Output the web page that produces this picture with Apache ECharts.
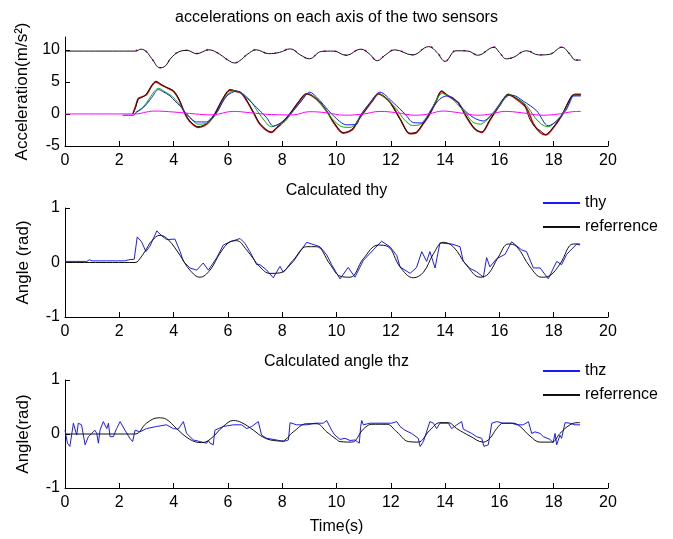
<!DOCTYPE html>
<html>
<head>
<meta charset="utf-8">
<script src="https://cdn.jsdelivr.net/npm/echarts@6/dist/echarts.min.js"></script>
<style>
  html, body { margin: 0; padding: 0; background: #fff; }
  #main { width: 673px; height: 539px; }
</style>
</head>
<body>
<div id="main"></div>
<script>
// time axis ticks (s)
const timeTicks = [0, 2, 4, 6, 8, 10, 12, 14, 16, 18, 20]
const accTicks = [-5, 0, 5, 10]
const angleTicks = [-1, 0, 1]

// top plot: accelerations [t, m/s^2]
const accZ1 = [[0,9.8],[2.6,9.8],[2.8,10.1],[3.0,9.7],[3.2,8.6],[3.5,7.2],[3.7,7.5],[3.9,8.7],[4.2,9.7],[4.5,9.9],[4.85,9.4],[5.3,10.0],[5.7,9.3],[6.0,8.4],[6.25,7.95],[6.5,8.5],[6.7,9.25],[7.05,10.0],[7.5,9.4],[7.9,9.6],[8.3,10.15],[8.65,9.25],[9.0,8.6],[9.45,9.75],[9.9,9.8],[10.35,9.15],[10.9,10.1],[11.2,9.4],[11.5,8.3],[11.8,9.2],[12.15,10.0],[12.8,9.2],[13.4,10.5],[13.7,9.6],[14.0,8.2],[14.4,9.85],[14.85,9.8],[15.2,9.15],[15.8,10.4],[16.0,9.6],[16.25,8.6],[16.5,8.8],[17.0,9.85],[17.45,9.2],[17.85,9.3],[18.3,10.4],[18.6,9.3],[18.8,8.4],[19.0,8.4]]
const accZ2 = [[2.6,9.82],[2.8,10.15],[3.0,9.72],[3.2,8.6],[3.5,7.22],[3.7,7.52],[3.9,8.72],[4.2,9.75],[4.5,9.95],[4.85,9.42],[5.3,10.05],[5.7,9.32],[6.0,8.42],[6.25,7.97],[6.5,8.52],[6.7,9.27],[7.05,10.05],[7.5,9.42],[7.9,9.62],[8.3,10.2],[8.65,9.27],[9.0,8.62],[9.45,9.8],[9.9,9.82],[10.35,9.17],[10.9,10.15],[11.2,9.42],[11.5,8.32],[11.8,9.22],[12.15,10.05],[12.8,9.22],[13.4,10.55],[13.7,9.62],[14.0,8.22],[14.4,9.9],[14.85,9.82],[15.2,9.17],[15.8,10.45],[16.0,9.62],[16.25,8.62],[16.5,8.82],[17.0,9.9],[17.45,9.22],[17.85,9.32],[18.3,10.45],[18.6,9.32],[18.8,8.42],[19.0,8.42]]
const accX1 = [[2.5,0],[2.6,1.2],[2.7,2.4],[2.85,2.7],[3.0,3.0],[3.2,4.4],[3.35,5.0],[3.55,4.5],[3.75,4.1],[4.0,3.5],[4.2,2.2],[4.42,0],[4.6,-1.2],[4.9,-2.1],[5.1,-1.9],[5.3,-1.3],[5.52,0],[5.8,2.2],[6.08,3.7],[6.3,3.5],[6.5,3.2],[6.7,2.0],[6.94,0.2],[7.18,-1.6],[7.6,-2.9],[7.8,-2.2],[8.0,-1.4],[8.29,0],[8.6,1.8],[8.9,3.1],[9.1,2.8],[9.4,1.7],[9.7,0],[9.9,-1.4],[10.25,-3.0],[10.45,-2.8],[10.62,-2.3],[10.8,-1.0],[11.0,0.2],[11.3,1.9],[11.55,3.1],[11.8,2.5],[12.0,1.7],[12.35,-0.8],[12.7,-3.1],[12.95,-2.9],[13.2,-1.5],[13.4,-0.3],[13.65,1.75],[13.87,3.5],[14.1,2.8],[14.3,2.3],[14.5,1.7],[14.8,-0.6],[15.1,-2.4],[15.35,-2.9],[15.65,-1.0],[16.0,1.25],[16.33,3.0],[16.6,2.4],[17.0,0.9],[17.25,-1.5],[17.5,-2.9],[17.7,-3.3],[17.98,-2.2],[18.29,-0.3],[18.66,2.7],[18.8,3.0],[19.0,3.0]]
const accX2 = [[2.5,0],[2.6,1.0],[2.7,2.3],[2.85,2.6],[3.0,3.1],[3.2,4.5],[3.35,5.1],[3.55,4.6],[3.75,4.1],[4.0,3.6],[4.2,2.3],[4.42,0.1],[4.6,-1.1],[4.9,-2.0],[5.1,-1.8],[5.3,-1.2],[5.52,0],[5.8,2.3],[6.08,3.8],[6.3,3.6],[6.5,3.3],[6.7,2.1],[6.94,0.3],[7.18,-1.5],[7.6,-2.8],[7.8,-2.1],[8.0,-1.3],[8.29,0.1],[8.6,1.9],[8.9,3.2],[9.1,2.9],[9.4,1.8],[9.7,0.1],[9.9,-1.3],[10.25,-2.9],[10.45,-2.7],[10.62,-2.2],[10.8,-0.9],[11.0,0.3],[11.3,2.0],[11.55,3.2],[11.8,2.6],[12.0,1.6],[12.35,-0.9],[12.7,-3.0],[12.95,-2.8],[13.2,-1.4],[13.4,-0.2],[13.65,1.9],[13.87,3.6],[14.1,2.9],[14.3,2.4],[14.5,1.6],[14.8,-0.5],[15.1,-2.3],[15.35,-2.8],[15.65,-0.9],[16.0,1.3],[16.33,3.1],[16.6,2.5],[16.9,1.6],[17.1,-0.6],[17.3,-2.0],[17.5,-2.6],[17.7,-3.2],[17.98,-2.1],[18.29,-0.2],[18.66,2.8],[18.8,3.1],[19.0,3.1]]
const accY1 = [[2.6,0.3],[2.8,0.8],[3.0,1.7],[3.2,3.0],[3.44,4.0],[3.7,3.4],[3.9,2.9],[4.2,1.6],[4.45,0.1],[4.7,-1.0],[4.9,-1.6],[5.2,-1.5],[5.4,-0.9],[5.6,0.2],[5.9,2.6],[6.2,3.6],[6.5,3.3],[6.8,2.2],[7.0,1.0],[7.3,-0.8],[7.6,-2.0],[7.9,-1.6],[8.1,-1.2],[8.35,0.2],[8.7,2.0],[8.95,3.2],[9.3,2.2],[9.6,0.6],[9.85,-0.8],[10.2,-2.0],[10.5,-2.1],[10.7,-1.6],[10.9,-0.2],[11.25,1.8],[11.55,3.2],[11.9,2.1],[12.2,0.8],[12.5,-0.9],[12.8,-1.8],[13.05,-1.7],[13.3,-0.6],[13.5,0.8],[13.9,3.2],[14.2,2.6],[14.5,1.3],[14.75,0.2],[15.0,-1.2],[15.3,-1.6],[15.55,-0.9],[15.8,0.2],[16.2,2.4],[16.4,3.0],[16.7,2.3],[17.0,1.3],[17.3,-0.5],[17.55,-1.6],[17.8,-2.0],[18.05,-1.3],[18.3,-0.1],[18.6,1.8],[18.75,2.9],[19.0,2.9]]
const accY2 = [[2.12,-0.2],[2.52,-0.2],[2.64,0.3],[2.8,0.7],[3.0,1.5],[3.2,2.6],[3.44,3.8],[3.6,3.5],[3.87,2.8],[4.05,2.0],[4.24,1.25],[4.48,0],[4.85,-1.25],[5.22,-1.25],[5.4,-0.6],[5.59,0.25],[5.96,2.8],[6.33,3.55],[6.69,2.5],[7.06,1.0],[7.43,-0.6],[7.67,-1.9],[8.04,-1.1],[8.41,0.5],[8.7,2.0],[9.02,3.4],[9.25,2.7],[9.51,1.5],[9.88,-0.25],[10.37,-1.7],[10.74,-1.6],[10.87,-0.3],[11.23,1.75],[11.6,3.4],[12.09,1.75],[12.52,0],[12.83,-1.35],[13.14,-1.4],[13.51,0.75],[13.8,2.3],[14.06,2.8],[14.3,2.5],[14.67,0.75],[15.04,-0.55],[15.4,-1.1],[15.78,0.25],[16.27,2.8],[16.5,2.9],[16.88,2.0],[17.37,0.5],[17.8,-1.85],[18.11,-1.1],[18.48,0.75],[18.72,2.8],[19.0,2.8]]
const accM = [[0,0],[2.6,0],[3.0,0.3],[3.3,0.45],[4.0,0.3],[4.8,0],[5.4,-0.15],[6.2,0.4],[6.8,0.2],[7.6,-0.1],[8.4,-0.15],[9.0,0.35],[9.6,0.2],[10.3,-0.2],[11.0,0],[11.6,0.4],[12.2,0.2],[12.9,-0.2],[13.4,0],[13.9,0.45],[14.5,0.2],[15.2,-0.2],[15.7,0],[16.2,0.4],[16.8,0.2],[17.6,-0.2],[18.2,0],[18.7,0.35],[19.0,0.4]]

// middle plot: thy [t, rad]
const thy = [[0,0.02],[0.8,0.02],[0.9,0.05],[1.0,0.03],[2.2,0.03],[2.35,0.05],[2.55,0.06],[2.66,0.47],[2.82,0.38],[2.98,0.2],[3.13,0.3],[3.38,0.58],[3.56,0.49],[3.74,0.42],[4.05,0.43],[4.24,0.2],[4.36,0.02],[4.6,-0.1],[4.85,-0.14],[5.09,-0.01],[5.28,-0.14],[5.58,0.08],[5.83,0.32],[6.08,0.38],[6.45,0.44],[6.63,0.35],[6.81,0.2],[7.06,-0.04],[7.18,-0.04],[7.43,-0.14],[7.67,-0.28],[7.92,-0.07],[8.04,-0.18],[8.41,0.02],[8.9,0.37],[9.39,0.29],[9.64,0.14],[9.82,-0.04],[10.13,-0.3],[10.43,-0.09],[10.68,-0.27],[10.99,0.04],[11.66,0.39],[11.97,0.29],[12.22,0.13],[12.34,-0.08],[12.71,-0.2],[12.95,-0.09],[13.14,0.2],[13.32,0.02],[13.44,0.2],[13.63,-0.1],[13.81,0.36],[14.24,0.34],[14.55,0.29],[14.67,0.02],[14.92,-0.11],[15.16,-0.17],[15.41,-0.27],[15.53,0.09],[15.65,-0.08],[15.9,0.07],[16.21,0.15],[16.45,0.38],[16.82,0.23],[17.0,0.2],[17.25,-0.1],[17.5,-0.1],[17.8,-0.3],[18.11,0.02],[18.29,-0.04],[18.48,0.15],[18.85,0.34],[18.97,0.32]]
const thyRef = [[0,0],[2.58,0],[2.8,0.1],[3.0,0.25],[3.2,0.4],[3.5,0.5],[3.8,0.42],[4.24,0.13],[4.6,-0.14],[4.97,-0.27],[5.34,-0.14],[5.71,0.17],[6.08,0.38],[6.32,0.4],[6.69,0.23],[7.18,-0.08],[7.55,-0.2],[7.92,-0.19],[8.4,0.04],[8.9,0.29],[9.26,0.29],[9.76,-0.03],[10.13,-0.25],[10.5,-0.27],[10.99,0.07],[11.54,0.32],[11.9,0.29],[12.34,-0.08],[12.83,-0.28],[13.2,-0.18],[13.56,0.15],[13.93,0.37],[14.3,0.29],[14.79,-0.05],[15.29,-0.27],[15.59,-0.21],[15.96,0.1],[16.33,0.34],[16.64,0.29],[17.13,-0.08],[17.56,-0.27],[17.86,-0.24],[18.23,-0.03],[18.72,0.34],[18.97,0.34]]

// bottom plot: thz [t, rad]
const thz = [[0,0.07],[0.09,-0.17],[0.18,-0.23],[0.31,0.2],[0.43,-0.02],[0.49,0.2],[0.61,0.17],[0.74,-0.2],[0.86,-0.05],[0.98,0.01],[1.1,0.07],[1.17,0.01],[1.23,-0.17],[1.29,0.07],[1.41,0.23],[1.54,0.1],[1.6,0.2],[1.66,-0.05],[1.78,-0.05],[1.9,0.1],[2.03,0.23],[2.21,0.07],[2.39,-0.08],[2.49,-0.14],[2.58,0.07],[2.76,0.04],[3.0,0.1],[3.38,0.14],[3.74,0.17],[3.99,0.1],[4.17,0.09],[4.36,0.23],[4.48,0.01],[4.73,-0.11],[4.97,-0.14],[5.22,-0.17],[5.28,-0.12],[5.34,-0.17],[5.46,-0.2],[5.52,0.07],[5.83,0.14],[6.2,0.17],[6.51,0.17],[6.69,0.1],[6.88,0.14],[7.12,0.23],[7.24,-0.02],[7.43,-0.08],[7.79,-0.11],[8.04,-0.14],[8.23,-0.11],[8.29,0.21],[8.53,0.17],[8.9,0.17],[9.21,0.2],[9.51,0.2],[9.64,0.25],[9.82,0.07],[9.94,-0.02],[10.13,-0.1],[10.31,-0.08],[10.5,-0.12],[10.68,-0.11],[10.84,-0.17],[10.89,0.14],[10.93,0.25],[10.99,0.17],[11.23,0.2],[11.6,0.2],[12.03,0.2],[12.22,0.23],[12.34,0.14],[12.52,0.07],[12.77,0.01],[13.01,-0.08],[13.08,-0.23],[13.2,-0.14],[13.44,0.23],[13.57,0.2],[13.69,0.1],[13.81,0.2],[14.12,0.2],[14.24,0.1],[14.43,0.17],[14.61,0.23],[14.67,0.09],[14.79,0.06],[14.98,0.01],[15.16,-0.05],[15.35,-0.08],[15.43,-0.23],[15.59,-0.2],[15.65,-0.02],[15.72,0.2],[15.9,0.23],[16.14,0.2],[16.45,0.2],[16.64,0.17],[16.88,0.17],[17.07,0.23],[17.19,0.01],[17.31,0.04],[17.5,0.01],[17.62,-0.05],[17.86,-0.1],[17.98,-0.16],[18.05,0.01],[18.11,-0.2],[18.23,-0.02],[18.29,-0.08],[18.42,0.21],[18.6,0.2],[18.78,0.17],[18.97,0.17]]
const thzRef = [[0,0],[2.58,0],[3.0,0.2],[3.44,0.3],[3.74,0.27],[4.11,0.1],[4.6,-0.1],[5.03,-0.16],[5.34,-0.1],[5.83,0.14],[6.2,0.25],[6.51,0.21],[6.94,0.07],[7.3,-0.06],[7.67,-0.12],[7.98,-0.13],[8.41,0.04],[8.9,0.19],[9.27,0.19],[9.64,0.04],[10.0,-0.1],[10.13,-0.14],[10.56,-0.15],[10.99,0.09],[11.3,0.18],[11.85,0.18],[12.22,0.04],[12.65,-0.14],[13.0,-0.15],[13.44,0.07],[13.81,0.21],[14.12,0.21],[14.43,0.1],[14.92,-0.04],[15.41,-0.15],[15.65,-0.08],[15.9,0.1],[16.14,0.2],[16.51,0.2],[16.76,0.14],[17.13,-0.04],[17.5,-0.15],[17.93,-0.15],[18.23,0.01],[18.6,0.17],[18.9,0.21],[18.97,0.21]]

const font = "'Liberation Sans', Arial, Helvetica, sans-serif"
const colors = { blue: '#1a1aff', black: '#111', red: '#e00000', green: '#00b400', magenta: '#ff00ff' }

function makeXAxis(gridIndex, name) {
  return {
    type: 'value', gridIndex: gridIndex, min: 0, max: 20, interval: 2,
    name: name || '', nameLocation: 'middle', nameGap: 31,
    nameTextStyle: { fontSize: 16, color: '#000' },
    axisLine: { onZero: false, lineStyle: { color: '#000', width: 1 } },
    axisTick: { inside: true, length: 5, lineStyle: { color: '#000' } },
    axisLabel: { fontSize: 16, color: '#000', margin: 7, formatter: v => timeTicks.includes(v) ? String(v) : '' },
    splitLine: { show: false }
  }
}

function makeYAxis(gridIndex, min, max, ticks, name, gap) {
  return {
    type: 'value', gridIndex: gridIndex, min: min, max: max,
    name: name, nameLocation: 'middle', nameGap: gap, nameRotate: 90,
    nameTextStyle: { fontSize: 17, color: '#000' },
    axisLine: { onZero: false, lineStyle: { color: '#000', width: 1 } },
    axisTick: { inside: true, length: 5, lineStyle: { color: '#000' }, customValues: ticks },
    axisLabel: { fontSize: 16, color: '#000', margin: 5, customValues: ticks },
    splitLine: { show: false }
  }
}

function line(name, data, color, xi, opts) {
  return Object.assign({
    name: name, type: 'line', data: data, xAxisIndex: xi, yAxisIndex: xi,
    showSymbol: false, symbol: 'none', smooth: false, animation: false,
    lineStyle: { color: color, width: 1 }, itemStyle: { color: color }
  }, opts || {})
}

const myChart = echarts.init(document.getElementById('main'), null, { renderer: 'canvas' })

const option = {
  backgroundColor: '#fff',
  animation: false,
  textStyle: { fontFamily: font },
  title: [
    { text: 'accelerations on each axis of the two sensors', left: 'center', top: 5, textStyle: { fontSize: 16, fontWeight: 'normal', color: '#000' } },
    { text: 'Calculated thy', left: 'center', top: 178, textStyle: { fontSize: 16, fontWeight: 'normal', color: '#000' } },
    { text: 'Calculated angle thz', left: 'center', top: 349, textStyle: { fontSize: 16, fontWeight: 'normal', color: '#000' } }
  ],
  grid: [
    { left: 65, width: 543, top: 37, height: 109 },
    { left: 65, width: 543, top: 208, height: 109 },
    { left: 65, width: 543, top: 380, height: 108 }
  ],
  legend: [
    { data: ['thy', 'referrence'], orient: 'vertical', left: 538, top: 189, itemWidth: 37, itemHeight: 2, itemGap: 6, icon: 'rect',
      textStyle: { fontSize: 16, color: '#000', lineHeight: 18 }, selectedMode: false },
    { data: ['thz', 'referrence'], orient: 'vertical', left: 538, top: 357, itemWidth: 37, itemHeight: 2, itemGap: 6, icon: 'rect',
      textStyle: { fontSize: 16, color: '#000', lineHeight: 18 }, selectedMode: false }
  ],
  xAxis: [makeXAxis(0), makeXAxis(1), makeXAxis(2, 'Time(s)')],
  yAxis: [
    makeYAxis(0, -5, 12, accTicks, 'Acceleration(m/s²)', 33),
    makeYAxis(1, -1, 1, angleTicks, 'Angle (rad)', 33),
    makeYAxis(2, -1, 1, angleTicks, 'Angle(rad)', 33)
  ],
  series: [
    line('accZ2', accZ2, colors.magenta, 0, { smooth: 0.4, lineStyle: { color: colors.magenta, width: 1.5, type: [2, 9] } }),
    line('accZ1', accZ1, colors.black, 0, { smooth: 0.4 }),
    line('accX1', accX1, colors.red, 0, { smooth: 0.3, lineStyle: { color: colors.red, width: 1.5 } }),
    line('accX2', accX2, colors.black, 0, { smooth: 0.3 }),
    line('accY1', accY1, colors.green, 0, { smooth: 0.3 }),
    line('accY2', accY2, colors.blue, 0, { smooth: 0.3 }),
    line('accM', accM, colors.magenta, 0, { smooth: 0.4 }),
    line('thy', thy, colors.blue, 1),
    line('referrence', thyRef, colors.black, 1, { smooth: 0.4 }),
    line('thz', thz, colors.blue, 2),
    line('referrence', thzRef, colors.black, 2, { smooth: 0.4 })
  ]
}

myChart.setOption(option)
</script>
</body>
</html>
